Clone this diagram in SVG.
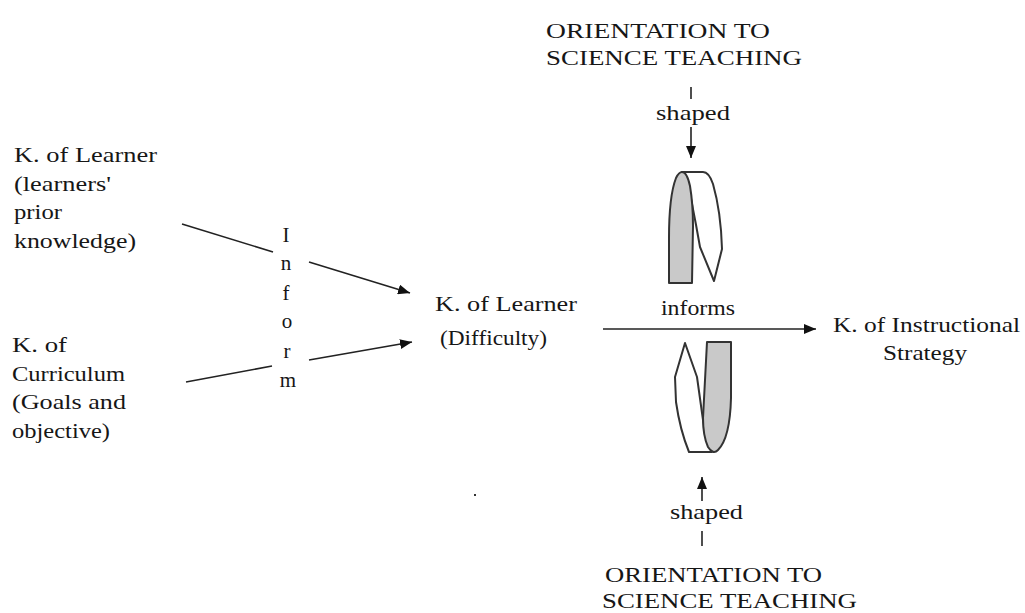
<svg xmlns="http://www.w3.org/2000/svg" width="1025" height="613" viewBox="0 0 1025 613">
  <defs>
    <marker id="head" viewBox="0 0 12 10" refX="12" refY="5" markerWidth="12" markerHeight="10" markerUnits="userSpaceOnUse" orient="auto">
      <path d="M0,0 L12,5 L0,10 Z" fill="#111"/>
    </marker>
    <style>
      text { font-family: 'Liberation Serif', 'DejaVu Serif', serif; font-size: 21px; fill: #161616; }
      .ln { stroke: #222; stroke-width: 1.6; fill: none; }
      .arr { stroke: #222; stroke-width: 1.6; fill: none; marker-end: url(#head); }
      .ribbon { stroke: #333; stroke-width: 2; stroke-linejoin: round; }
      .fold { fill: #c9c9c9; }
      .band { fill: #ffffff; }
    </style>
  </defs>
  <rect width="1025" height="613" fill="#ffffff"/>

  <g font-family="Liberation Serif, DejaVu Serif, serif">
  <!-- connectors -->
  <g id="connectors">
    <line class="ln" x1="182" y1="224" x2="273" y2="252"/>
    <line class="arr" x1="309" y1="262" x2="410" y2="293"/>
    <line class="ln" x1="186" y1="382" x2="272" y2="366"/>
    <line class="arr" x1="309" y1="360" x2="412" y2="342"/>
    <line class="arr" x1="603" y1="329" x2="816" y2="329"/>
    <line class="ln" x1="691" y1="87" x2="691" y2="99"/>
    <line class="arr" x1="691" y1="127" x2="691" y2="158"/>
    <line class="ln" x1="702" y1="531" x2="702" y2="546"/>
    <line class="arr" x1="702" y1="501" x2="702" y2="477"/>
    <text x="286" y="242" text-anchor="middle">I</text>
    <text x="286" y="270" text-anchor="middle">n</text>
    <text x="286" y="300" text-anchor="middle">f</text>
    <text x="287" y="328" text-anchor="middle">o</text>
    <text x="287" y="358" text-anchor="middle">r</text>
    <text x="288" y="387" text-anchor="middle">m</text>
    <text x="661" y="315" textLength="74" lengthAdjust="spacingAndGlyphs">informs</text>
    <text x="656" y="120" textLength="74" lengthAdjust="spacingAndGlyphs">shaped</text>
    <text x="670" y="519" textLength="73" lengthAdjust="spacingAndGlyphs">shaped</text>
  </g>

  <!-- prior knowledge of learners -->
  <g id="learner-prior">
    <text x="14" y="162" textLength="143" lengthAdjust="spacingAndGlyphs">K. of Learner</text>
    <text x="14" y="191" textLength="97" lengthAdjust="spacingAndGlyphs">(learners'</text>
    <text x="14" y="219" textLength="48" lengthAdjust="spacingAndGlyphs">prior</text>
    <text x="14" y="248" textLength="122" lengthAdjust="spacingAndGlyphs">knowledge)</text>
  </g>

  <!-- curriculum -->
  <g id="curriculum">
    <text x="12" y="352" textLength="55" lengthAdjust="spacingAndGlyphs">K. of</text>
    <text x="12" y="381" textLength="113" lengthAdjust="spacingAndGlyphs">Curriculum</text>
    <text x="12" y="409" textLength="114" lengthAdjust="spacingAndGlyphs">(Goals and</text>
    <text x="12" y="438" textLength="98" lengthAdjust="spacingAndGlyphs">objective)</text>
  </g>

  <!-- learner difficulty -->
  <g id="learner-difficulty">
    <text x="435" y="311" textLength="142" lengthAdjust="spacingAndGlyphs">K. of Learner</text>
    <text x="440" y="345" textLength="107" lengthAdjust="spacingAndGlyphs">(Difficulty)</text>
  </g>

  <!-- instructional strategy -->
  <g id="instructional-strategy">
    <text x="833" y="332" textLength="187" lengthAdjust="spacingAndGlyphs">K. of Instructional</text>
    <text x="883" y="360" textLength="84" lengthAdjust="spacingAndGlyphs">Strategy</text>
  </g>

  <!-- orientation, upper -->
  <g id="orientation-top">
    <text x="546" y="38" textLength="224" lengthAdjust="spacingAndGlyphs">ORIENTATION TO</text>
    <text x="546" y="65" textLength="256" lengthAdjust="spacingAndGlyphs">SCIENCE TEACHING</text>
  </g>

  <!-- orientation, lower -->
  <g id="orientation-bottom">
    <text x="605" y="582" textLength="217" lengthAdjust="spacingAndGlyphs">ORIENTATION TO</text>
    <text x="602" y="608" textLength="255" lengthAdjust="spacingAndGlyphs">SCIENCE TEACHING</text>
  </g>

  <!-- upper ribbon -->
  <g id="ribbon-top">
    <path class="ribbon band" d="M682,172 L703,172 Q709,172 713,184 Q721,212 722,249 L714,281 L700,247 Q696,224 692,204 Q688,180 682,172 Z"/>
    <path class="ribbon fold" d="M669,283 L669,238 Q669,196 676,178 Q679,172 682,172 Q687,172 690,186 Q693,204 693,226 L692,283 Z"/>
  </g>

  <!-- lower ribbon -->
  <g id="ribbon-bottom">
    <path class="ribbon band" d="M685,343 L697,377 L703,420 Q706,442 712,452 L689,452 Q680,430 676,402 L675,377 Z"/>
    <path class="ribbon fold" d="M707,342 L731,342 L731,398 Q730,438 718,450 Q713,455 708,447 Q703,436 703,418 Z"/>
  </g>
  </g>

  <rect x="474" y="494" width="2" height="2" fill="#333"/>
</svg>
